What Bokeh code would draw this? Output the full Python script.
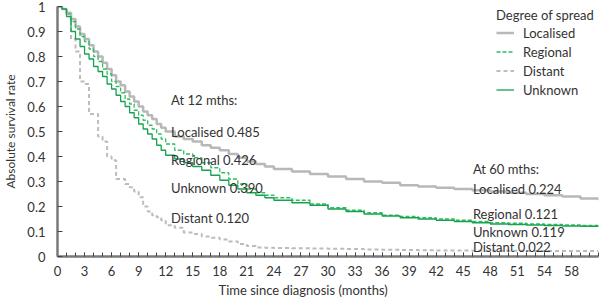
from bokeh.plotting import figure
from bokeh.models import FixedTicker, Label, Legend, LegendItem, Title
from bokeh.embed import file_html
from bokeh.resources import INLINE

# ---------------- data ----------------
months = [0, 0.5, 1, 1.5, 2, 2.5, 3, 3.5, 4, 4.5, 5, 5.5, 6, 6.5, 7, 7.5, 8, 8.5,
          9, 9.5, 10, 10.5, 11, 11.5, 12, 13, 14, 15, 16, 17, 18, 19, 20, 21, 22,
          23, 24, 26, 28, 30, 32, 34, 36, 38, 40, 42, 44, 46, 48, 50, 52, 54, 56,
          58, 60]

localised = [1.0, 0.99, 0.975, 0.95, 0.92, 0.89, 0.87, 0.845, 0.82, 0.80, 0.775,
             0.75, 0.725, 0.70, 0.685, 0.66, 0.64, 0.62, 0.60, 0.58, 0.565, 0.55,
             0.53, 0.515, 0.50, 0.48, 0.47, 0.46, 0.445, 0.435, 0.425, 0.41, 0.395,
             0.38, 0.37, 0.36, 0.35, 0.34, 0.33, 0.32, 0.31, 0.30, 0.295, 0.285,
             0.28, 0.275, 0.27, 0.265, 0.26, 0.255, 0.25, 0.245, 0.24, 0.232, 0.225]

regional = [1.0, 0.99, 0.97, 0.94, 0.91, 0.88, 0.86, 0.83, 0.80, 0.78, 0.75, 0.73,
            0.70, 0.68, 0.655, 0.63, 0.61, 0.585, 0.565, 0.545, 0.525, 0.51, 0.49,
            0.47, 0.45, 0.425, 0.41, 0.395, 0.375, 0.355, 0.335, 0.31, 0.29, 0.27,
            0.255, 0.245, 0.235, 0.225, 0.21, 0.195, 0.185, 0.175, 0.165, 0.16,
            0.155, 0.15, 0.145, 0.14, 0.135, 0.133, 0.13, 0.128, 0.126, 0.124, 0.121]

distant = [1.0, 0.99, 0.97, 0.87, 0.82, 0.70, 0.69, 0.57, 0.57, 0.48, 0.46, 0.40,
           0.385, 0.31, 0.31, 0.29, 0.277, 0.26, 0.237, 0.20, 0.18, 0.165, 0.157,
           0.145, 0.125, 0.115, 0.096, 0.09, 0.08, 0.075, 0.068, 0.06, 0.05, 0.042,
           0.036, 0.035, 0.034, 0.033, 0.032, 0.031, 0.03, 0.028, 0.027, 0.026,
           0.025, 0.024, 0.024, 0.023, 0.023, 0.023, 0.022, 0.022, 0.022, 0.022, 0.022]

unknown = [1.0, 0.99, 0.96, 0.90, 0.87, 0.84, 0.81, 0.79, 0.76, 0.74, 0.72, 0.69,
           0.67, 0.645, 0.62, 0.60, 0.575, 0.555, 0.53, 0.51, 0.49, 0.47, 0.445,
           0.425, 0.405, 0.39, 0.375, 0.36, 0.345, 0.325, 0.305, 0.285, 0.27, 0.255,
           0.245, 0.235, 0.225, 0.215, 0.205, 0.19, 0.18, 0.17, 0.162, 0.155, 0.15,
           0.145, 0.14, 0.135, 0.13, 0.128, 0.126, 0.124, 0.122, 0.121, 0.119]

series_names = ["Localised", "Regional", "Distant", "Unknown"]
at12_names = ["Localised", "Regional", "Unknown", "Distant"]
at12_values = [0.485, 0.426, 0.390, 0.120]
at60_names = ["Localised", "Regional", "Unknown", "Distant"]
at60_values = [0.224, 0.121, 0.119, 0.022]

x_major_ticks = list(range(0, 58, 3))
x_tick_labels = {t: str(t) for t in x_major_ticks}
x_tick_labels[57] = "58"
y_ticks = [0, 0.1, 0.2, 0.3, 0.4, 0.5, 0.6, 0.7, 0.8, 0.9, 1.0]

# ---------------- style ----------------
FONT = "Lato"
TXT = "#333333"
FS = "13px"

p = figure(width=600, height=301, x_range=(0, 60), y_range=(0, 1),
           output_backend="svg", toolbar_location=None,
           min_border_left=51, min_border_right=2, min_border_top=6,
           min_border_bottom=45)
p.outline_line_color = None
p.xgrid.grid_line_color = None
p.ygrid.grid_line_color = None
p.background_fill_color = "white"

styles = {
    "Localised": dict(color="#b8b8b8", width=2.5, dash="solid"),
    "Regional": dict(color="#2fbf62", width=1.3, dash="4 2"),
    "Distant": dict(color="#bcbcbc", width=2.0, dash="4 3"),
    "Unknown": dict(color="#17a150", width=1.3, dash="solid"),
}
data = {"Localised": localised, "Regional": regional,
        "Distant": distant, "Unknown": unknown}

items = []
for name in series_names:
    s = styles[name]
    r = p.step(months, data[name], mode="after", line_color=s["color"],
               line_width=s["width"], line_dash=s["dash"])
    items.append(LegendItem(label=name, renderers=[r]))

# axes
for ax in (p.xaxis[0], p.yaxis[0]):
    ax.axis_line_color = "#7a7a7a"
    ax.axis_line_width = 2.5
    ax.major_tick_line_color = "#444444"
    ax.minor_tick_line_color = "#444444"
    ax.major_tick_out = 0
    ax.minor_tick_out = 0
    ax.major_label_text_font = FONT
    ax.major_label_text_font_size = FS
    ax.major_label_text_color = TXT

p.xaxis.ticker = FixedTicker(ticks=x_major_ticks, minor_ticks=list(range(0, 61)))
p.xaxis.major_label_overrides = x_tick_labels
p.xaxis.major_tick_in = 4
p.xaxis.minor_tick_in = 4
p.xaxis.major_label_standoff = 9

p.yaxis.ticker = FixedTicker(ticks=y_ticks, minor_ticks=[])
p.yaxis.major_label_overrides = {0: "0", 1: "1"}
p.yaxis.major_tick_in = 5
p.yaxis.minor_tick_in = 0
p.yaxis.major_label_standoff = 12
p.yaxis.axis_label = "Absolute survival rate"
p.yaxis.axis_label_text_font = FONT
p.yaxis.axis_label_text_font_size = "12px"
p.yaxis.axis_label_text_font_style = "normal"
p.yaxis.axis_label_text_color = TXT
p.yaxis.axis_label_standoff = 6

# x axis title as a left-aligned title below the axis
p.add_layout(Title(text="Time since diagnosis (months)", align="left", offset=161,
                   text_font=FONT, text_font_size=FS, text_font_style="normal",
                   text_color=TXT, standoff=3), "below")

# annotations
def note(x, y, text):
    p.add_layout(Label(x=x, y=y, text=text, text_font=FONT,
                       text_font_size=FS, text_color=TXT,
                       text_baseline="middle", text_align="left"))

note(12.6, 0.627, "At 12 mths:")
for nm, v, yy in zip(at12_names, at12_values, [0.497, 0.385, 0.275, 0.156]):
    note(12.6, yy, f"{nm} {v:.3f}")
note(46.07, 0.349, "At 60 mths:")
for nm, v, yy in zip(at60_names, at60_values, [0.270, 0.172, 0.100, 0.040]):
    note(46.07, yy, f"{nm} {v:.3f}")

legend = Legend(items=items, location=(439, 157), title="Degree of spread",
                title_text_font=FONT, title_text_font_size=FS,
                title_text_font_style="normal", title_text_color=TXT,
                label_text_font=FONT, label_text_font_size=FS,
                label_text_color=TXT, glyph_width=18, glyph_height=19,
                label_height=19, label_standoff=9, spacing=0, padding=0,
                margin=0, title_standoff=0, border_line_color=None,
                background_fill_alpha=0)
p.add_layout(legend)

open("out.html", "w").write(file_html(p, INLINE))
